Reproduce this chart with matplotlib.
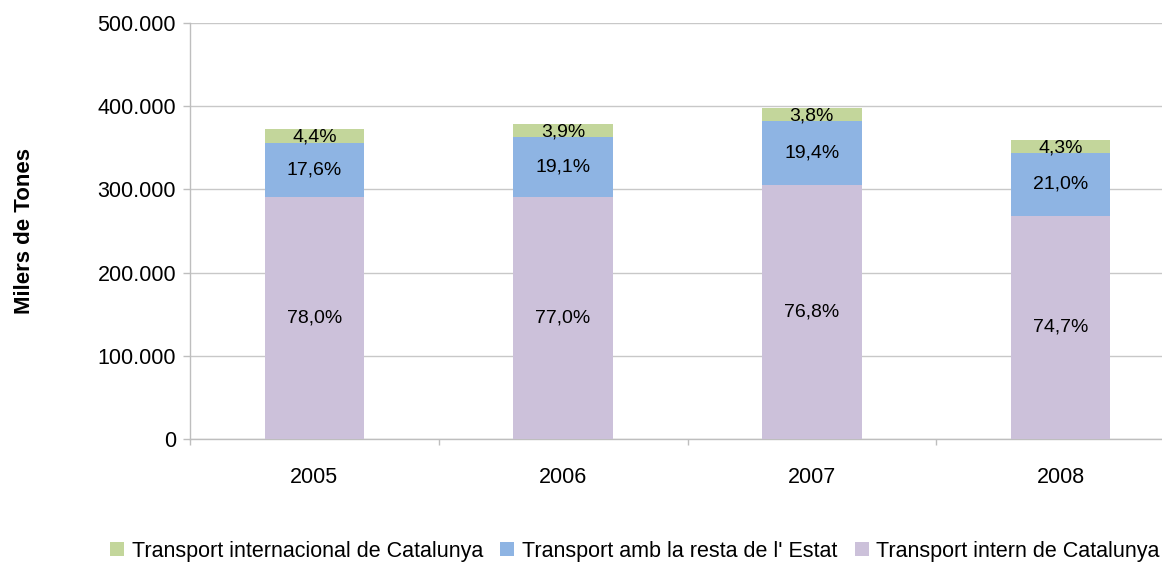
import matplotlib
matplotlib.use("Agg")
import matplotlib.pyplot as plt
from matplotlib.ticker import FuncFormatter, FixedLocator
import numpy as np

years = ["2005", "2006", "2007", "2008"]
intern = [290300, 291200, 305300, 268200]
resta_estat = [65500, 72200, 77100, 75400]
internacional = [16400, 14700, 15100, 15400]
pct_intern = ["78,0%", "77,0%", "76,8%", "74,7%"]
pct_resta = ["17,6%", "19,1%", "19,4%", "21,0%"]
pct_inter = ["4,4%", "3,9%", "3,8%", "4,3%"]
series_names = ["Transport internacional de Catalunya",
                "Transport amb la resta de l' Estat",
                "Transport intern de Catalunya"]

plt.rcParams['font.family'] = ['Liberation Sans', 'DejaVu Sans']

fig = plt.figure(figsize=(11.62, 5.62), dpi=100)
ax = fig.add_axes([190/1162, 1-439/562, (1185-190)/1162, (439-23)/562])

c_int = "#CCC1DA"
c_res = "#8EB4E3"
c_inter = "#C3D69B"

x = np.arange(len(years))
w = 0.4
b1 = ax.bar(x, intern, w, color=c_int, zorder=3)
b2 = ax.bar(x, resta_estat, w, bottom=intern, color=c_res, zorder=3)
bot3 = np.array(intern) + np.array(resta_estat)
b3 = ax.bar(x, internacional, w, bottom=bot3, color=c_inter, zorder=3)

fs = 14
for i in range(len(years)):
    ax.text(x[i], intern[i]/2, pct_intern[i], ha='center', va='center', fontsize=fs, zorder=4)
    ax.text(x[i], intern[i] + resta_estat[i]/2, pct_resta[i], ha='center', va='center', fontsize=fs, zorder=4)
    ax.text(x[i], bot3[i] + internacional[i]/2 - 1500, pct_inter[i], ha='center', va='center', fontsize=fs, zorder=4)

ax.set_ylim(0, 500000)
ax.set_xlim(-0.5, 3.5)
ax.set_yticks(np.arange(0, 500001, 100000))
ax.yaxis.set_major_formatter(FuncFormatter(lambda v, p: "0" if v == 0 else f"{int(v):,}".replace(",", ".")))
ax.set_xticks(x)
ax.set_xticklabels(years)
ax.xaxis.set_minor_locator(FixedLocator([-0.5, 0.5, 1.5, 2.5, 3.5]))
ax.tick_params(axis='x', which='major', length=0, pad=20, labelsize=15.5)
ax.tick_params(axis='x', which='minor', length=4, color='#BEBEBE', width=1)
ax.tick_params(axis='y', length=5, color='#BEBEBE', width=1, labelsize=15.5, pad=5)

ax.grid(axis='y', color='#C8C8C8', linewidth=1, zorder=0)
for s in ['top', 'right']:
    ax.spines[s].set_visible(False)
for s in ['left', 'bottom']:
    ax.spines[s].set_color('#BEBEBE')
    ax.spines[s].set_linewidth(1)

fig.text(25/1162, 1-231/562, "Milers de Tones", rotation=90, ha='center', va='center',
         fontsize=16, fontweight='bold')

handles = [b3, b2, b1]
leg = fig.legend(handles, series_names, loc='center', bbox_to_anchor=(635/1162, 1-551/562),
                 ncol=3, frameon=False, handlelength=0.65, handleheight=0.65,
                 handletextpad=0.35, columnspacing=0.8,
                 prop={'family': ['Liberation Sans'], 'size': 15.5})

fig.savefig("out.png", dpi=100)
